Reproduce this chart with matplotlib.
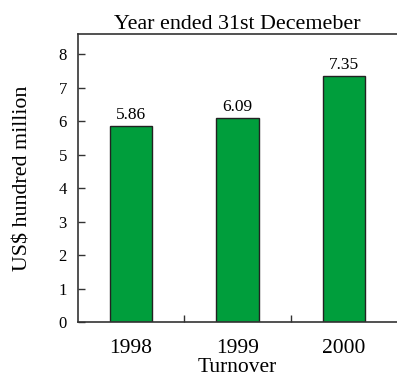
import matplotlib
matplotlib.use("Agg")
import matplotlib.pyplot as plt
import numpy as np

years = ["1998", "1999", "2000"]
turnover = [5.86, 6.09, 7.35]
y_ticks = [0, 1, 2, 3, 4, 5, 6, 7, 8]

plt.rcParams["font.family"] = ["Liberation Serif", "DejaVu Serif"]

fig = plt.figure(figsize=(3.97, 3.76), dpi=100)
ax = fig.add_axes([78 / 397, 54 / 376, 1 - 78 / 397, (322 - 34) / 376])

x = np.arange(len(years))
ax.bar(x, turnover, width=0.4, color="#009e3c", edgecolor="#222222", linewidth=1.0, zorder=2)
for xi, v in zip(x, turnover):
    ax.text(xi, v + 0.08, f"{v:.2f}", ha="center", va="bottom", fontsize=12.5)

ax.set_xlim(-0.5, 2.5)
ax.set_ylim(0, 8.6)
ax.set_yticks(y_ticks)
ax.tick_params(axis="y", direction="in", length=5, width=1, color="#333333", labelsize=12, pad=8)

ax.set_xticks(x)
ax.set_xticklabels(years)
ax.tick_params(axis="x", which="major", length=0, labelsize=15.5, pad=12)
ax.set_xticks([0.5, 1.5], minor=True)
ax.tick_params(axis="x", which="minor", direction="in", length=5, width=1, color="#333333")

for side in ["left", "bottom", "top"]:
    ax.spines[side].set_color("#333333")
    ax.spines[side].set_linewidth(1.2)
ax.spines["right"].set_visible(False)

ax.set_title("Year ended 31st Decemeber", fontsize=15.8, pad=3)
ax.set_ylabel("US$ hundred million", fontsize=15.8, labelpad=19)
ax.set_xlabel("Turnover", fontsize=15.5, labelpad=0)

fig.savefig("out.png", dpi=100)
